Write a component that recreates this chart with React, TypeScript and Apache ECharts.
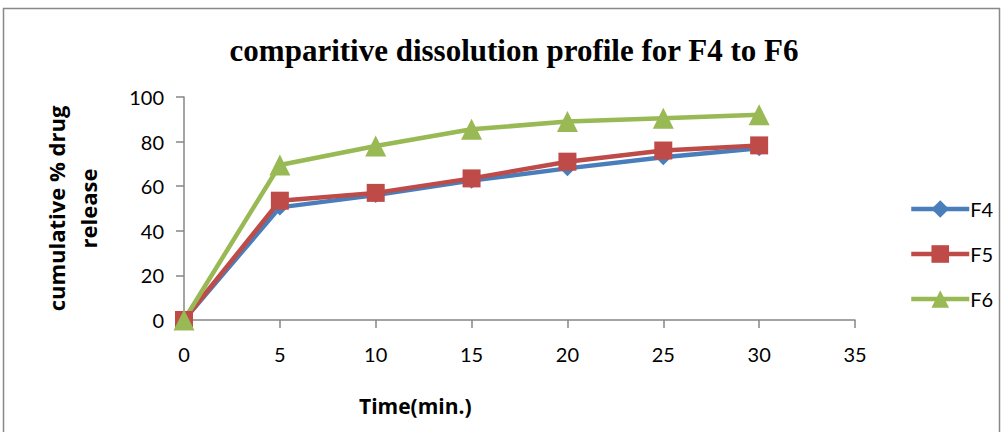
import React, { useEffect, useRef } from "react";
import * as echarts from "echarts";

const times = [0, 5, 10, 15, 20, 25, 30];
const f4 = [0, 50.5, 56, 62.5, 68, 73, 77];
const f5 = [0, 53.5, 57, 63.5, 71, 76, 78.3];
const f6 = [0, 69.5, 78, 85.5, 89, 90.5, 92];
const seriesNames = ["F4", "F5", "F6"];
const colors = ["#4A7EBB", "#BE4B48", "#98B954"];
const symbols = ["diamond", "rect", "triangle"];
const symbolSizes = [16, 18, 21];

export default function App() {
  const ref = useRef<HTMLDivElement>(null);
  useEffect(() => {
    const chart = echarts.init(ref.current!, null, { renderer: "svg" });
    const datas = [f4, f5, f6];
    chart.setOption({
      animation: false,
      backgroundColor: "#ffffff",
      title: {
        text: "comparitive dissolution profile for F4 to F6",
        left: 509,
        textAlign: "center",
        top: 30,
        textStyle: {
          fontFamily: "Liberation Serif",
          fontWeight: "bold",
          fontSize: 31,
          color: "#000",
        },
      },
      graphic: [
        {
          type: "rect",
          shape: { x: 3.5, y: 8.5, width: 996, height: 430 },
          style: { fill: "none", stroke: "#888", lineWidth: 1.5 },
          silent: true,
        },
        {
          type: "text",
          left: 359,
          top: 395,
          style: {
            text: "Time(min.)",
            fontFamily: "Open Sans",
            fontWeight: "bold",
            fontSize: 21,
            fill: "#000",
          },
        },
      ],
      legend: {
        orient: "vertical",
        left: 904,
        top: 193,
        itemWidth: 58,
        itemHeight: 22,
        itemGap: 23,
        data: seriesNames.map((n, i) => ({
          name: n,
          lineStyle: { width: 4.5, color: colors[i] },
        })),
        textStyle: { fontFamily: "Lato", fontSize: 20, color: "#000", padding: [0, 0, 0, -4], lineHeight: 22 },
      },
      grid: { left: 184, right: 149, top: 97, bottom: 112, containLabel: false },
      xAxis: {
        type: "value",
        min: 0,
        max: 35,
        interval: 5,
        axisLine: { lineStyle: { color: "#868686", width: 1.5 } },
        axisTick: { show: true, length: 8, lineStyle: { color: "#868686", width: 1.5 } },
        axisLabel: { fontFamily: "Lato", fontSize: 20, color: "#000", margin: 24 },
        splitLine: { show: false },
      },
      yAxis: {
        type: "value",
        min: 0,
        max: 100,
        interval: 20,
        name: "cumulative % drug\nrelease",
        nameLocation: "middle",
        nameGap: 80,
        nameRotate: 90,
        nameTextStyle: { fontFamily: "Open Sans", fontWeight: "bold", fontSize: 22, color: "#000", lineHeight: 32 },
        axisLine: { show: true, lineStyle: { color: "#868686", width: 1.5 } },
        axisTick: { show: true, length: 8, lineStyle: { color: "#868686", width: 1.5 } },
        axisLabel: { fontFamily: "Lato", fontSize: 20, color: "#000", margin: 20 },
        splitLine: { show: false },
      },
      series: seriesNames.map((n, i) => ({
        name: n,
        type: "line",
        data: times.map((t, j) => [t, datas[i][j]]),
        symbol: symbols[i],
        symbolSize: symbolSizes[i],
        itemStyle: { color: colors[i] },
        lineStyle: { color: colors[i], width: 4.5 },
      })),
    });
    return () => chart.dispose();
  }, []);
  return <div ref={ref} style={{ width: 1004, height: 432, position: "absolute", left: 0, top: 0 }} />;
}
